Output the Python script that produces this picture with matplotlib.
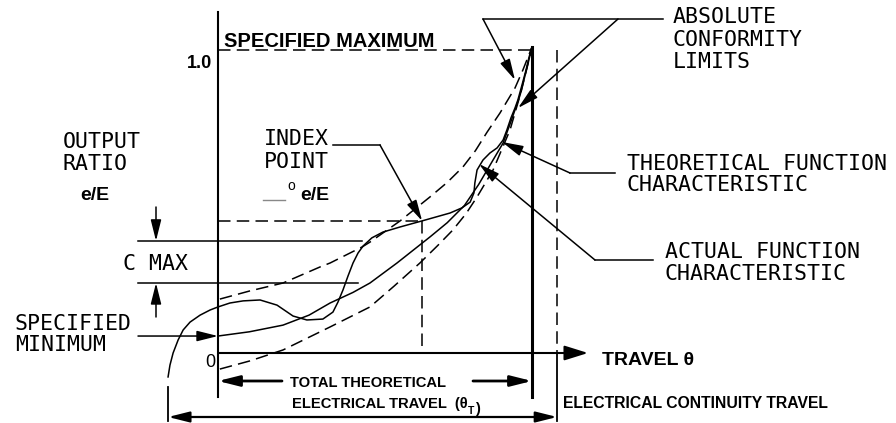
import matplotlib
matplotlib.use("Agg")
import matplotlib.pyplot as plt

plt.rcParams['lines.scale_dashes'] = False

# travel (fraction of theta_T) vs output ratio e/E
theo_x = [0.0, 0.10, 0.207, 0.290, 0.357, 0.430, 0.484, 0.570, 0.675, 0.730, 0.785, 0.830, 0.876, 0.908, 0.935, 0.962, 0.985, 1.0]
theo_y = [0.056, 0.070, 0.092, 0.125, 0.165, 0.200, 0.231, 0.297, 0.383, 0.430, 0.487, 0.556, 0.637, 0.693, 0.770, 0.851, 0.945, 1.01]

upper_x = [0.006, 0.102, 0.207, 0.325, 0.357, 0.459, 0.484, 0.580, 0.675, 0.730, 0.780, 0.820, 0.857, 0.898, 0.946, 0.971, 1.0]
upper_y = [0.178, 0.205, 0.231, 0.284, 0.297, 0.350, 0.366, 0.436, 0.515, 0.563, 0.614, 0.668, 0.729, 0.792, 0.875, 0.934, 1.01]

lower_x = [0.006, 0.102, 0.207, 0.357, 0.484, 0.560, 0.643, 0.700, 0.748, 0.790, 0.825, 0.876, 0.930, 0.965, 1.0]
lower_y = [-0.053, -0.026, 0.010, 0.086, 0.152, 0.220, 0.297, 0.355, 0.406, 0.460, 0.515, 0.604, 0.736, 0.861, 1.01]

actual_x = [-0.159, -0.153, -0.143, -0.127, -0.111, -0.089, -0.057, -0.025, 0.0, 0.038, 0.080, 0.134,
            0.188, 0.239, 0.283, 0.334, 0.366, 0.382, 0.398, 0.414, 0.430, 0.446, 0.462, 0.490, 0.525,
            0.580, 0.650, 0.739, 0.777, 0.803, 0.815, 0.818, 0.825, 0.844, 0.866, 0.889, 0.908, 0.920,
            0.933, 0.946, 0.955, 0.968, 0.981, 0.990, 1.0]
actual_y = [-0.079, -0.040, 0.0, 0.043, 0.076, 0.102, 0.125, 0.142, 0.152, 0.165, 0.172, 0.175,
            0.158, 0.122, 0.109, 0.112, 0.135, 0.168, 0.208, 0.254, 0.297, 0.330, 0.353, 0.380, 0.399,
            0.416, 0.436, 0.462, 0.479, 0.498, 0.528, 0.561, 0.604, 0.637, 0.660, 0.677, 0.703, 0.736,
            0.776, 0.809, 0.835, 0.884, 0.934, 0.974, 1.01]

spec_max = 1.0
spec_min = 0.056
index_travel = 0.650
index_ratio = 0.436
cmax_top = 0.370
cmax_bottom = 0.231
continuity_start = -0.159
continuity_end = 1.080

# pixel layout of the drawing -> data units
PX0, PY0, SX, SY = 218, 353, 314, 303
def P(x, y):
    return ((x - PX0) / SX, (PY0 - y) / SY)

fig = plt.figure(figsize=(8.96, 4.23), dpi=100)
ax = fig.add_axes([0, 0, 1, 1])
ax.set_xlim(P(0, 0)[0], P(896, 0)[0])
ax.set_ylim(P(0, 423)[1], P(0, 0)[1])
ax.axis('off')

K = 'black'
DASH = (9, 4.5)
lw = 1.1

# curves
ax.plot(theo_x, theo_y, color=K, lw=lw)
ax.plot(actual_x, actual_y, color=K, lw=lw)
ax.plot(upper_x, upper_y, color=K, lw=lw, dashes=DASH)
ax.plot(lower_x, lower_y, color=K, lw=lw, dashes=DASH)

# axes
ax.plot([0, 0], [P(0, 12)[1], P(0, 397)[1]], color=K, lw=1.5)
ax.annotate('', xy=P(588, 353), xytext=(0, 0),
            arrowprops=dict(arrowstyle='-|>,head_length=0.8,head_width=0.25', color=K, lw=1.5,
                            mutation_scale=18, shrinkA=0, shrinkB=0))

# reference lines
ax.plot([0, 1.0], [spec_max, spec_max], color=K, lw=lw, dashes=DASH)
ax.plot([1.0, 1.0], [1.01, P(0, 397)[1]], color=K, lw=2.2)
ax.plot([continuity_end, continuity_end], [spec_max, 0], color=K, lw=lw, dashes=DASH)
ax.plot([continuity_end, continuity_end], [0, P(0, 421)[1]], color=K, lw=1.3)
ax.plot([0, index_travel], [index_ratio, index_ratio], color=K, lw=lw, dashes=DASH)
ax.plot([index_travel, index_travel], [index_ratio, 0], color=K, lw=lw, dashes=DASH)
ax.plot([P(138, 0)[0], P(362, 0)[0]], [cmax_top, cmax_top], color=K, lw=lw)
ax.plot([P(138, 0)[0], P(358, 0)[0]], [cmax_bottom, cmax_bottom], color=K, lw=lw)
ax.plot([continuity_start, continuity_start], [P(0, 387)[1], P(0, 421)[1]], color=K, lw=1.3)

def arrow(tip, tail, lw=1.1, ms=16, style='-|>,head_length=0.8,head_width=0.2'):
    ax.annotate('', xy=tip, xytext=tail,
                arrowprops=dict(arrowstyle=style, color=K, lw=lw, mutation_scale=ms,
                                shrinkA=0, shrinkB=0))

# C MAX arrows and specified minimum
arrow((P(156, 0)[0], cmax_top), P(156, 207))
arrow((P(156, 0)[0], cmax_bottom), P(156, 317))
arrow((0, spec_min), (P(138, 0)[0], spec_min))

# total theoretical electrical travel
arrow((0, P(0, 381)[1]), P(282, 381), lw=2)
arrow((1.0, P(0, 381)[1]), P(473, 381), lw=2)
# electrical continuity travel
arrow((continuity_end, P(0, 417)[1]), (continuity_start, P(0, 417)[1]), lw=1.6,
      style='<|-|>,head_length=0.8,head_width=0.2')

# leaders
ax.plot(*zip(P(333, 145), P(380, 145)), color=K, lw=lw)
arrow((index_travel, index_ratio), P(380, 145))
ax.plot(*zip(P(483, 19), P(663, 19)), color=K, lw=lw)
arrow(P(515, 80), P(483, 19))
arrow(P(518, 108), P(618, 19))
ax.plot(*zip(P(570, 173), P(615, 173)), color=K, lw=lw)
arrow(P(502, 142), P(570, 173))
ax.plot(*zip(P(595, 260), P(653, 260)), color=K, lw=lw)
arrow(P(479, 164), P(595, 260))

# text
MONO = 'DejaVu Sans Mono'
SANS = 'Liberation Sans'
def mono(x, y, s):
    ax.text(*P(x, y), s, family=MONO, fontsize=15.5, ha='left', va='baseline')
def bold(x, y, s, size=12, ha='left'):
    return ax.text(*P(x, y), s, family=SANS, fontweight='bold', fontsize=size, ha=ha, va='baseline')

mono(63, 148, 'OUTPUT')
mono(63, 170, 'RATIO')
bold(80, 200, 'e/E', size=14)
mono(264, 145, 'INDEX')
mono(264, 168, 'POINT')
ax.plot(*zip(P(263, 200), P(285, 200)), color='#888888', lw=1)
ax.text(*P(287, 190), 'o', family=SANS, fontsize=10, ha='left', va='baseline')
bold(300, 200, 'e/E', size=14)
mono(123, 270, 'C MAX')
mono(15, 330, 'SPECIFIED')
mono(15, 351, 'MINIMUM')
mono(673, 23, 'ABSOLUTE')
mono(673, 46, 'CONFORMITY')
mono(673, 68, 'LIMITS')
mono(627, 170, 'THEORETICAL FUNCTION')
mono(627, 191, 'CHARACTERISTIC')
mono(665, 258, 'ACTUAL FUNCTION')
mono(665, 280, 'CHARACTERISTIC')

bold(224, 47, 'SPECIFIED MAXIMUM', size=14.5)
bold(212, 68, '1.0', size=13, ha='right')
ax.text(*P(215, 367), '0', family=SANS, fontsize=13, ha='right', va='baseline')
bold(602, 365, 'TRAVEL \u03b8', size=14)
bold(290, 387, 'TOTAL THEORETICAL', size=10.6)
t = bold(292, 408, 'ELECTRICAL TRAVEL  (\u03b8', size=10.6)
tsub = ax.annotate('T', xy=(1, 0), xycoords=t, xytext=(0.3, -2), textcoords='offset points',
                   family=SANS, fontweight='bold', fontsize=7.5, ha='left', va='baseline')
ax.annotate(')', xy=(1, 0), xycoords=tsub, xytext=(0.2, 2), textcoords='offset points',
            family=SANS, fontweight='bold', fontsize=10.6, ha='left', va='baseline')
bold(563, 408, 'ELECTRICAL CONTINUITY TRAVEL', size=11.3)

fig.savefig('out.png', dpi=100)
